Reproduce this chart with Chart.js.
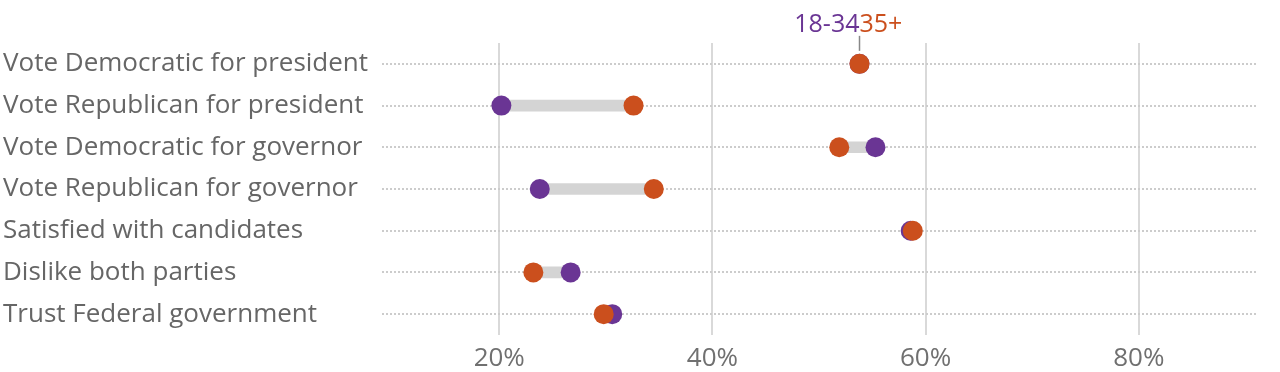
<!DOCTYPE html>
<html>
<head>
<meta charset="utf-8">
<script src="https://cdn.jsdelivr.net/npm/chart.js@4"></script>
<style>
  html, body { margin: 0; padding: 0; background: #fff; }
  #wrap { width: 1280px; height: 372px; }
</style>
</head>
<body>
<div id="wrap"><canvas id="dumbbell"></canvas></div>
<script>
  var categories = [
    "Vote Democratic for president",
    "Vote Republican for president",
    "Vote Democratic for governor",
    "Vote Republican for governor",
    "Satisfied with candidates",
    "Dislike both parties",
    "Trust Federal government"
  ];
  var young = [53.8, 20.2, 55.3, 23.8, 58.6, 26.7, 30.6];   // 18-34
  var older = [53.8, 32.6, 51.9, 34.5, 58.8, 23.2, 29.8];   // 35+
  var xTicks = [20, 40, 60, 80];

  var PURPLE = "#6a3594";
  var ORANGE = "#cb4f1d";
  var FONT = "'Open Sans'";

  var spans = young.map(function (v, i) {
    return [Math.min(v, older[i]), Math.max(v, older[i])];
  });

  // key above the first row
  var keyLabel = {
    id: "keyLabel",
    afterDatasetsDraw: function (chart) {
      var ctx = chart.ctx;
      var x = chart.scales.x.getPixelForValue(older[0]);
      var y = chart.scales.y.getPixelForValue(0);
      ctx.save();
      ctx.strokeStyle = "#888";
      ctx.lineWidth = 1.5;
      ctx.beginPath();
      ctx.moveTo(x, y - 28);
      ctx.lineTo(x, y - 13);
      ctx.stroke();
      ctx.font = "25px " + FONT;
      ctx.textBaseline = "alphabetic";
      ctx.textAlign = "right";
      ctx.fillStyle = PURPLE;
      ctx.fillText("18-34", x, y - 32);
      ctx.textAlign = "left";
      ctx.fillStyle = ORANGE;
      ctx.fillText("35+", x, y - 32);
      ctx.restore();
    }
  };

  var ctx = document.getElementById("dumbbell");
  var myChart = new Chart(ctx, {
    type: "bar",
    data: {
      labels: categories,
      datasets: [{
        label: "gap",
        data: spans,
        backgroundColor: "#d4d4d4",
        barThickness: 11,
        order: 3
      }, {
        type: "line",
        label: "18-34",
        data: young,
        showLine: false,
        pointRadius: 10,
        pointHoverRadius: 10,
        pointBackgroundColor: PURPLE,
        pointBorderWidth: 0,
        order: 2
      }, {
        type: "line",
        label: "35+",
        data: older,
        showLine: false,
        pointRadius: 10,
        pointHoverRadius: 10,
        pointBackgroundColor: ORANGE,
        pointBorderWidth: 0,
        order: 1
      }]
    },
    options: {
      indexAxis: "y",
      responsive: true,
      maintainAspectRatio: false,
      animation: false,
      layout: {
        padding: { top: 43, right: 24, bottom: 0, left: 3 }
      },
      plugins: {
        legend: { display: false },
        tooltip: { enabled: false }
      },
      scales: {
        x: {
          min: 9,
          max: 91,
          afterBuildTicks: function (scale) {
            scale.ticks = xTicks.map(function (v) { return { value: v }; });
          },
          afterFit: function (scale) { scale.height = 37; },
          grid: {
            color: "#d9d9d9",
            lineWidth: 2,
            drawTicks: false
          },
          border: { display: false },
          ticks: {
            color: "#707070",
            padding: 8,
            font: { family: FONT, size: 26 },
            callback: function (v) { return v + "%"; }
          }
        },
        y: {
          afterFit: function (scale) { scale.width = 379; },
          grid: {
            offset: false,
            color: "#cccccc",
            lineWidth: 2,
            drawTicks: false
          },
          border: { display: false, dash: [2, 2] },
          ticks: {
            color: "#666",
            crossAlign: "far",
            padding: 0,
            font: { family: FONT, size: 26 }
          }
        }
      }
    },
    plugins: [keyLabel]
  });
</script>
</body>
</html>
